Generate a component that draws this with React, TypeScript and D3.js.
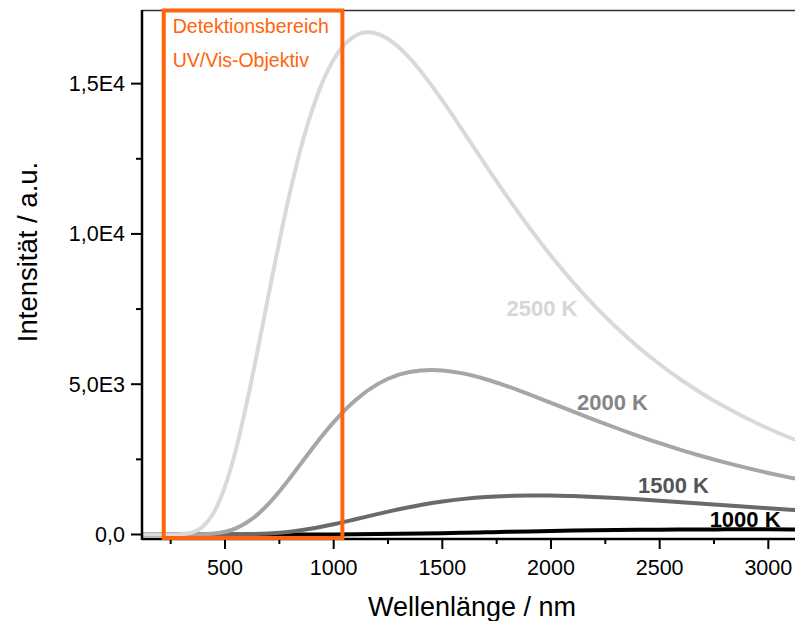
import React from "react";
import * as d3 from "d3";

// ---- Data ----
const wavelength2500 = [120, 200, 250, 300, 350, 400, 450, 500, 550, 600, 650, 700, 750, 800, 850, 900, 950, 1000, 1050, 1100, 1150, 1200, 1250, 1300, 1400, 1500, 1600, 1700, 1800, 1900, 2000, 2100, 2200, 2300, 2400, 2500, 2600, 2700, 2800, 2900, 3000, 3100, 3200];
const intensity2500 = [0, 0, 0.5, 9.5, 68.5, 274, 753, 1596, 2823, 4369, 6124, 7959, 9754, 11415, 12876, 14101, 15076, 15805, 16305, 16597, 16707, 16661, 16487, 16207, 15420, 14441, 13372, 12284, 11222, 10212, 9272, 8405, 7614, 6896, 6249, 5665, 5140, 4668, 4246, 3866, 3525, 3218, 2942];

const wavelength2000 = [120, 300, 400, 450, 500, 550, 600, 650, 700, 750, 800, 850, 900, 950, 1000, 1100, 1200, 1300, 1400, 1450, 1500, 1600, 1700, 1800, 1900, 2000, 2100, 2200, 2300, 2400, 2500, 2600, 2700, 2800, 2900, 3000, 3100, 3200];
const intensity2000 = [0, 0, 7.5, 30.7, 89.8, 206, 397, 669, 1019, 1432, 1889, 2367, 2847, 3310, 3740, 4470, 4994, 5316, 5459, 5475, 5459, 5351, 5166, 4930, 4663, 4382, 4096, 3815, 3543, 3283, 3038, 2809, 2596, 2398, 2216, 2048, 1893, 1751];

const wavelength1500 = [120, 400, 500, 600, 700, 800, 900, 1000, 1100, 1200, 1300, 1400, 1500, 1600, 1700, 1800, 1900, 2000, 2100, 2200, 2300, 2400, 2500, 2600, 2700, 2800, 2900, 3000, 3100, 3200];
const intensity1500 = [0, 0, 0.7, 7.3, 33.1, 94.3, 198, 340, 505, 676, 838, 980, 1097, 1185, 1247, 1283, 1298, 1296, 1278, 1250, 1213, 1170, 1123, 1074, 1023, 972, 922, 873, 825, 779];

const wavelength1000 = [120, 600, 800, 1000, 1100, 1200, 1300, 1400, 1500, 1600, 1700, 1800, 1900, 2000, 2100, 2200, 2300, 2400, 2500, 2600, 2700, 2800, 2900, 3000, 3100, 3200];
const intensity1000 = [0, 0, 0.2, 2.8, 6.4, 12.4, 20.9, 31.8, 44.7, 59.0, 74.0, 89.0, 103.4, 116.9, 129.0, 139.7, 148.7, 156.1, 161.8, 166.1, 169.0, 170.6, 171.1, 170.6, 169.4, 167.2];

const seriesNames = ["1000 K", "1500 K", "2000 K", "2500 K"];
const xMajorTicks = [500, 1000, 1500, 2000, 2500, 3000];
const xMinorTicks = [250, 750, 1250, 1750, 2250, 2750, 3250];
const yMajorTicks = [0, 5000, 10000, 15000];
const yTickLabels = ["0,0", "5,0E3", "1,0E4", "1,5E4"];
const yMinorTicks = [2500, 7500, 12500];
const detectionRange = [218, 1040];
const detectionLabels = ["Detektionsbereich", "UV/Vis-Objektiv"];
// label anchors in data units (wavelength, intensity), same order as seriesNames
const labelWavelength = [2730, 2400, 2120, 1795];
const labelIntensity = [240, 1380, 4150, 7270];

const W = 795;
const H = 621;
const FONT = "'Liberation Sans', Arial, Helvetica, sans-serif";

export default function App() {
  const x = d3.scaleLinear().domain([118, 3500]).range([142, 142 + 3382 * 0.21732]);
  const y = d3.scaleLinear().domain([-150, 17450]).range([539, 10]);

  const line = d3
    .line<[number, number]>()
    .x((d) => x(d[0]))
    .y((d) => y(d[1]))
    .curve(d3.curveMonotoneX);

  const series = [
    { wl: wavelength1000, v: intensity1000, color: "#000000", label: "#000000" },
    { wl: wavelength1500, v: intensity1500, color: "#6a6a6a", label: "#555555" },
    { wl: wavelength2000, v: intensity2000, color: "#a6a6a6", label: "#858585" },
    { wl: wavelength2500, v: intensity2500, color: "#d9d9d9", label: "#d6d6d6" },
  ];

  const x0 = 142;
  const yAxisY = y(-150);
  const yTop = y(17450);

  return (
    <svg
      width={W}
      height={H}
      style={{ position: "absolute", left: 0, top: 0, background: "#fff" }}
      fontFamily={FONT}
    >
      <rect x={0} y={0} width={W} height={H} fill="#fff" />
      {/* curves */}
      <g fill="none" strokeWidth={4} strokeLinejoin="round" strokeLinecap="butt">
        {series.map((s, i) => (
          <path
            key={i}
            d={line(s.wl.map((w, j) => [w, s.v[j]] as [number, number])) || ""}
            stroke={s.color}
          />
        ))}
      </g>
      {/* series labels */}
      {series.map((s, i) => (
        <text
          key={"l" + i}
          x={x(labelWavelength[i])}
          y={y(labelIntensity[i])}
          fontSize={22}
          fontWeight="bold"
          fill={s.label}
        >
          {seriesNames[i]}
        </text>
      ))}
      {/* axes */}
      <line x1={x0} x2={W} y1={yTop + 0.5} y2={yTop + 0.5} stroke="#333" strokeWidth={1.5} />
      <line x1={x0} x2={x0} y1={yTop} y2={yAxisY + 1} stroke="#000" strokeWidth={2.5} />
      <line x1={x0} x2={W} y1={yAxisY} y2={yAxisY} stroke="#000" strokeWidth={2.5} />
      {xMajorTicks.map((t) => (
        <g key={"xt" + t}>
          <line x1={x(t)} x2={x(t)} y1={yAxisY} y2={yAxisY + 10} stroke="#000" strokeWidth={2} />
          <text x={x(t)} y={575} fontSize={21.5} textAnchor="middle" fill="#000">
            {t}
          </text>
        </g>
      ))}
      {xMinorTicks.map((t) => (
        <line key={"xm" + t} x1={x(t)} x2={x(t)} y1={yAxisY} y2={yAxisY + 5} stroke="#000" strokeWidth={2} />
      ))}
      {yMajorTicks.map((t, i) => (
        <g key={"yt" + t}>
          <line x1={x0 - 11} x2={x0} y1={y(t)} y2={y(t)} stroke="#000" strokeWidth={2} />
          <text x={125} y={y(t) + 7.5} fontSize={21.5} textAnchor="end" fill="#000">
            {yTickLabels[i]}
          </text>
        </g>
      ))}
      {yMinorTicks.map((t) => (
        <line key={"ym" + t} x1={x0 - 6} x2={x0} y1={y(t)} y2={y(t)} stroke="#000" strokeWidth={2} />
      ))}
      {/* detection range box */}
      <rect
        x={x(detectionRange[0])}
        y={yTop + 0.5}
        width={x(detectionRange[1]) - x(detectionRange[0])}
        height={yAxisY - 1 - (yTop + 0.5)}
        fill="none"
        stroke="#ff640a"
        strokeWidth={4}
      />
      {detectionLabels.map((t, i) => (
        <text key={"d" + i} x={x(detectionRange[0]) + 9} y={33 + i * 33.5} fontSize={19.5} fill="#ff640a">
          {t}
        </text>
      ))}
      {/* axis titles */}
      <text x={472} y={615.5} fontSize={27} textAnchor="middle" fill="#000">
        Wellenlänge / nm
      </text>
      <text
        transform={`translate(36.5, 252) rotate(-90)`}
        fontSize={27.5}
        textAnchor="middle"
        fill="#000"
      >
        Intensität / a.u.
      </text>
    </svg>
  );
}
